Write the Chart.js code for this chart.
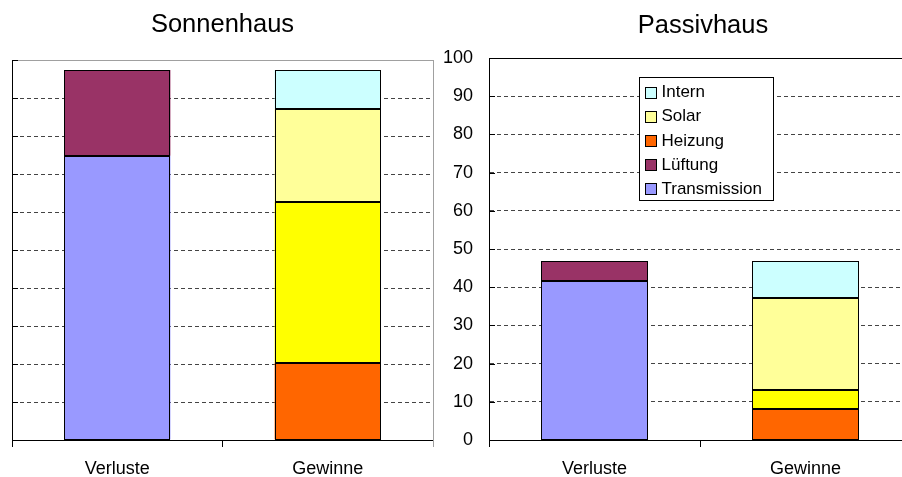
<!DOCTYPE html>
<html>
<head>
<meta charset="utf-8">
<script src="https://cdn.jsdelivr.net/npm/chart.js@4/dist/chart.umd.min.js"></script>
<style>
  html, body { margin: 0; padding: 0; background: #fff; }
  body { width: 902px; height: 477px; overflow: hidden; position: relative; }
  canvas { position: absolute; top: 0; }
  #sonnen { left: 0; }
  #passiv { left: 440px; }
</style>
</head>
<body>
<canvas id="sonnen" width="445" height="477"></canvas>
<canvas id="passiv" width="526" height="477"></canvas>
<script>
// Energiebilanz: Verluste gegen Gewinne, Sonnenhaus und Passivhaus
const categories = ['Verluste', 'Gewinne'];
const yTicks = [0, 10, 20, 30, 40, 50, 60, 70, 80, 90, 100];

// Sonnenhaus
const sonnenTransmission = [74.8, null];
const sonnenLueftung     = [22.6, null];
const sonnenHeizung      = [null, 20.3];
const sonnenSolarAktiv   = [null, 42.4];
const sonnenSolar        = [null, 24.4];
const sonnenIntern       = [null, 10.3];

// Passivhaus
const passivTransmission = [41.7, null];
const passivLueftung     = [5.1, null];
const passivHeizung      = [null, 8.2];
const passivSolarAktiv   = [null, 4.9];
const passivSolar        = [null, 24.1];
const passivIntern       = [null, 9.6];

const FONT = "'Liberation Sans', Arial, sans-serif";
Chart.defaults.font.family = FONT;
Chart.defaults.color = '#000';

function makeDatasets(t, l, h, sa, s, i) {
  const base = { borderColor: '#000', borderWidth: 0, inflateAmount: 0,
                 barPercentage: 0.505, categoryPercentage: 1.0 };
  return [
    { ...base, label: 'Transmission', data: t,  backgroundColor: '#9999FF' },
    { ...base, label: 'Lüftung',      data: l,  backgroundColor: '#993366' },
    { ...base, label: 'Heizung',      data: h,  backgroundColor: '#FF6600' },
    { ...base, label: 'Solar',        data: sa, backgroundColor: '#FFFF00', inLegend: false },
    { ...base, label: 'Solar',        data: s,  backgroundColor: '#FFFF99' },
    { ...base, label: 'Intern',       data: i,  backgroundColor: '#CCFFFF' }
  ];
}

// Crisp 1px black outline around every bar segment
const outlinePlugin = {
  id: 'outline',
  afterDatasetsDraw(chart) {
    const ctx = chart.ctx;
    ctx.save();
    ctx.strokeStyle = '#000';
    ctx.lineWidth = 1;
    chart.data.datasets.forEach((ds, di) => {
      const meta = chart.getDatasetMeta(di);
      meta.data.forEach((bar, k) => {
        if (ds.data[k] == null) return;
        const p = bar.getProps(['x', 'y', 'base', 'width'], true);
        const l = Math.round(p.x - p.width / 2) + 0.5;
        const r = Math.round(p.x + p.width / 2) - 0.5;
        const t = Math.round(Math.min(p.y, p.base)) + 0.5;
        const b = Math.round(Math.max(p.y, p.base)) - 0.5;
        ctx.strokeRect(l, t, r - l, b - t);
      });
    });
    ctx.restore();
  }
};

// Plot frame lines and short inward tick marks on the value axis
const framePlugin = {
  id: 'frame',
  beforeDatasetsDraw(chart, args, opts) {
    const ctx = chart.ctx, a = chart.chartArea, y = chart.scales.y;
    ctx.save();
    ctx.strokeStyle = '#000';
    ctx.lineWidth = 1;
    ctx.beginPath();
    y.ticks.forEach(t => {
      const py = Math.round(y.getPixelForValue(t.value)) + 0.5;
      ctx.moveTo(a.left, py);
      ctx.lineTo(a.left + 6, py);
    });
    ctx.stroke();
    ctx.restore();
  },
  afterDraw(chart, args, opts) {
    const ctx = chart.ctx, a = chart.chartArea;
    ctx.save();
    ctx.lineWidth = 1;
    const top = Math.round(a.top) + 0.5;
    ctx.strokeStyle = opts.topColor;
    ctx.beginPath();
    ctx.moveTo(a.left + 6, top);
    ctx.lineTo(a.right, top);
    ctx.stroke();
    ctx.strokeStyle = '#000';
    ctx.beginPath();
    ctx.moveTo(a.left, top);
    ctx.lineTo(a.left + 6, top);
    ctx.stroke();
    if (opts.rightColor) {
      const rx = Math.round(a.right) + 0.5;
      ctx.strokeStyle = opts.rightColor;
      ctx.beginPath();
      ctx.moveTo(rx, a.top);
      ctx.lineTo(rx, a.bottom + 7);
      ctx.stroke();
    }
    ctx.restore();
  }
};

// Framed legend placed inside the plot area
const boxLegendPlugin = {
  id: 'boxLegend',
  afterDraw(chart, args, opts) {
    if (!opts.display) return;
    const ctx = chart.ctx, a = chart.chartArea;
    const items = chart.data.datasets.filter(d => d.inLegend !== false).slice().reverse();
    const x = Math.round(a.left + opts.offsetX) + 0.5;
    const y = Math.round(a.top + opts.offsetY) + 0.5;
    const rowH = 24.2;
    const w = opts.width, h = items.length * rowH + 2;
    ctx.save();
    ctx.fillStyle = '#fff';
    ctx.fillRect(x, y, w, h);
    ctx.strokeStyle = '#000';
    ctx.lineWidth = 1;
    ctx.strokeRect(x, y, w, h);
    ctx.font = '17px ' + FONT;
    ctx.textBaseline = 'middle';
    ctx.textAlign = 'left';
    items.forEach((d, k) => {
      const cy = y + 14 + k * rowH;
      const mx = x + 6, my = Math.round(cy - 5) + 0.5;
      ctx.fillStyle = d.backgroundColor;
      ctx.fillRect(mx, my, 11, 11);
      ctx.strokeStyle = '#000';
      ctx.strokeRect(mx, my, 11, 11);
      ctx.fillStyle = '#000';
      ctx.fillText(d.label, x + 22, cy + 1);
    });
    ctx.restore();
  }
};

function makeOptions(cfg) {
  return {
    responsive: false,
    animation: false,
    devicePixelRatio: 1,
    layout: { padding: 0 },
    plugins: {
      legend: { display: false },
      tooltip: { enabled: false },
      title: {
        display: true,
        text: cfg.title,
        color: '#000',
        font: { family: FONT, size: 25.5, weight: 'normal' },
        padding: { top: cfg.titleTop, bottom: cfg.titleBottom }
      },
      frame: { topColor: cfg.topColor, rightColor: cfg.rightColor },
      boxLegend: { display: cfg.legend, offsetX: 150, offsetY: 19, width: 134 }
    },
    scales: {
      x: {
        stacked: true,
        grid: { offset: true, drawOnChartArea: false, drawTicks: true, tickLength: 7, color: '#000' },
        border: { color: '#000', width: 1 },
        ticks: { font: { size: 18 }, color: '#000', padding: 11.5, maxRotation: 0 },
        afterFit: s => { s.height = 37; }
      },
      y: {
        stacked: true,
        min: 0,
        max: 100,
        afterBuildTicks: s => { s.ticks = yTicks.map(v => ({ value: v })); },
        ticks: { display: cfg.yLabels, font: { size: 18 }, color: '#000', padding: 16 },
        grid: {
          drawTicks: false,
          color: c => (c.tick && (c.tick.value === 0 || c.tick.value === 100)) ? 'rgba(0,0,0,0)' : '#444'
        },
        border: { color: '#000', width: 1, dash: [4, 3] },
        afterFit: s => { s.width = cfg.yWidth; }
      },
      // empty margin on the right side of the plot
      rand: {
        type: 'linear',
        position: 'right',
        display: true,
        min: 0,
        max: 1,
        grid: { display: false, drawTicks: false },
        border: { display: false },
        ticks: { display: false },
        afterFit: s => { s.width = cfg.padRight; }
      }
    }
  };
}

new Chart(document.getElementById('sonnen'), {
  type: 'bar',
  data: {
    labels: categories,
    datasets: makeDatasets(sonnenTransmission, sonnenLueftung, sonnenHeizung,
                           sonnenSolarAktiv, sonnenSolar, sonnenIntern)
  },
  options: makeOptions({ title: 'Sonnenhaus', padRight: 12, titleTop: 9.7, titleBottom: 19.7,
                         yWidth: 12, yLabels: false, topColor: '#a0a0a0', rightColor: '#a0a0a0',
                         legend: false }),
  plugins: [framePlugin, outlinePlugin, boxLegendPlugin]
});

new Chart(document.getElementById('passiv'), {
  type: 'bar',
  data: {
    labels: categories,
    datasets: makeDatasets(passivTransmission, passivLueftung, passivHeizung,
                           passivSolarAktiv, passivSolar, passivIntern)
  },
  options: makeOptions({ title: 'Passivhaus', padRight: 55, titleTop: 10.7, titleBottom: 16.7,
                         yWidth: 49, yLabels: true, topColor: '#000', rightColor: null,
                         legend: true }),
  plugins: [framePlugin, outlinePlugin, boxLegendPlugin]
});
</script>
</body>
</html>
